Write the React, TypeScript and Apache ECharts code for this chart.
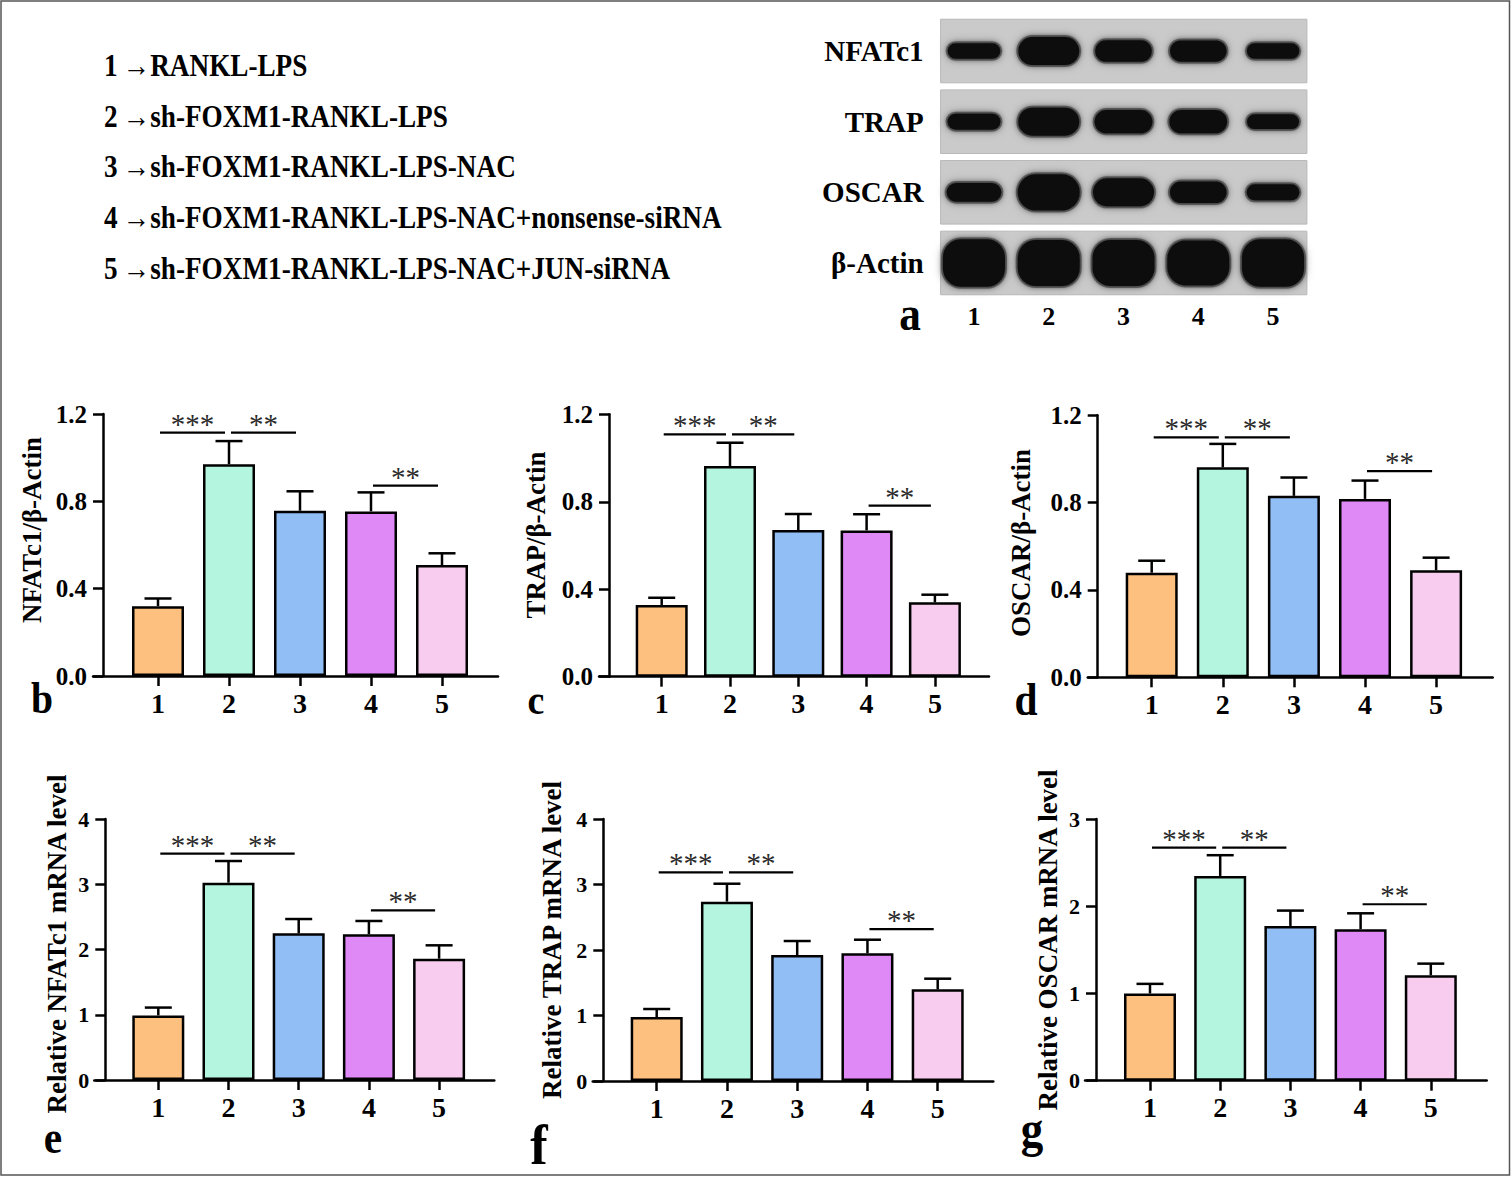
import React, { useEffect, useRef } from "react";
import * as echarts from "echarts";

const FONT = "'Liberation Serif', 'Times New Roman', serif";

// ---------- data ----------
const groups = ["1", "2", "3", "4", "5"];
const groupTreatments = [
  "RANKL-LPS",
  "sh-FOXM1-RANKL-LPS",
  "sh-FOXM1-RANKL-LPS-NAC",
  "sh-FOXM1-RANKL-LPS-NAC+nonsense-siRNA",
  "sh-FOXM1-RANKL-LPS-NAC+JUN-siRNA",
];
const barColors = ["#FDC07F", "#B4F5DF", "#92BEF6", "#DE89F6", "#F8CCEE"];

// protein level relative to β-Actin (mean, SEM)
const nfatc1Protein = [0.32, 0.97, 0.757, 0.754, 0.508];
const nfatc1ProteinSem = [0.035, 0.106, 0.089, 0.087, 0.054];
const trapProtein = [0.328, 0.963, 0.671, 0.669, 0.34];
const trapProteinSem = [0.033, 0.107, 0.073, 0.074, 0.035];
const oscarProtein = [0.479, 0.962, 0.831, 0.817, 0.49];
const oscarProteinSem = [0.055, 0.107, 0.084, 0.084, 0.058];

// relative mRNA level (mean, SEM)
const nfatc1Mrna = [0.99, 3.024, 2.248, 2.233, 1.859];
const nfatc1MrnaSem = [0.12, 0.332, 0.219, 0.204, 0.205];
const trapMrna = [0.977, 2.738, 1.924, 1.949, 1.399];
const trapMrnaSem = [0.122, 0.274, 0.213, 0.208, 0.163];
const oscarMrna = [1.0, 2.347, 1.774, 1.736, 1.209];
const oscarMrnaSem = [0.11, 0.238, 0.176, 0.183, 0.133];

// significance comparisons
const comparisons = [
  [1, 2],
  [2, 3],
  [4, 5],
];
const significance = ["***", "**", "**"];
const bracketLevelsB = [1.115, 1.115, 0.872];
const bracketLevelsC = [1.108, 1.108, 0.782];
const bracketLevelsD = [1.099, 1.099, 0.944];
const bracketLevelsE = [3.468, 3.468, 2.6];
const bracketLevelsF = [3.186, 3.186, 2.32];
const bracketLevelsG = [2.672, 2.672, 2.023];

// western blot (relative band signal per lane)
const blotTargets = ["NFATc1", "TRAP", "OSCAR", "β-Actin"];
const bandNFATc1 = [0.56, 1.0, 0.77, 0.76, 0.55];
const bandTRAP = [0.57, 1.0, 0.83, 0.83, 0.53];
const bandOSCAR = [0.67, 1.3, 1.0, 0.77, 0.57];
const bandActin = [1.7, 1.65, 1.65, 1.6, 1.7];

// ---------- layout ----------
const panels = [
  { letter: "b", title: "NFATc1/β-Actin", means: nfatc1Protein, sems: nfatc1ProteinSem, levels: bracketLevelsB,
    yMax: 1.2, yStep: 0.4, dec: 1, yFont: 25, axisStart: 93, yAxisX: 103, axisEnd: 498, c1: 158, step: 71,
    top: 414, y0: 676, titleX: 32, titleY: 530, letterX: 42, letterY: 698, letterSize: 44 },
  { letter: "c", title: "TRAP/β-Actin", means: trapProtein, sems: trapProteinSem, levels: bracketLevelsC,
    yMax: 1.2, yStep: 0.4, dec: 1, yFont: 25, axisStart: 599, yAxisX: 609, axisEnd: 989, c1: 661.7, step: 68.3,
    top: 414.3, y0: 676.7, titleX: 536, titleY: 535, letterX: 536, letterY: 700, letterSize: 42 },
  { letter: "d", title: "OSCAR/β-Actin", means: oscarProtein, sems: oscarProteinSem, levels: bracketLevelsD,
    yMax: 1.2, yStep: 0.4, dec: 1, yFont: 25, axisStart: 1087.7, yAxisX: 1097.7, axisEnd: 1492.7, c1: 1151.7, step: 71.1,
    top: 415.3, y0: 677.3, titleX: 1021, titleY: 543, letterX: 1026, letterY: 699, letterSize: 46 },
  { letter: "e", title: "Relative NFATc1 mRNA level", means: nfatc1Mrna, sems: nfatc1MrnaSem, levels: bracketLevelsE,
    yMax: 4, yStep: 1, dec: 0, yFont: 22, axisStart: 94.3, yAxisX: 105.3, axisEnd: 494.3, c1: 158.3, step: 70.2,
    top: 819, y0: 1080, titleX: 57, titleY: 944, letterX: 53, letterY: 1137, letterSize: 46 },
  { letter: "f", title: "Relative TRAP mRNA level", means: trapMrna, sems: trapMrnaSem, levels: bracketLevelsF,
    yMax: 4, yStep: 1, dec: 0, yFont: 22, axisStart: 592.7, yAxisX: 603.3, axisEnd: 993.3, c1: 656.7, step: 70.25,
    top: 819, y0: 1081, titleX: 552, titleY: 940, letterX: 539, letterY: 1145, letterSize: 58 },
  { letter: "g", title: "Relative OSCAR mRNA level", means: oscarMrna, sems: oscarMrnaSem, levels: bracketLevelsG,
    yMax: 3, yStep: 1, dec: 0, yFont: 22, axisStart: 1085, yAxisX: 1096, axisEnd: 1486.7, c1: 1150, step: 70.2,
    top: 819, y0: 1080.7, titleX: 1048, titleY: 940, letterX: 1032, letterY: 1129, letterSize: 50 },
];

const AXIS_W = 2.5;
const BLACK = "#000";

function buildOption() {
  const grid: any[] = [];
  const xAxis: any[] = [];
  const yAxis: any[] = [];
  const series: any[] = [];
  const graphic: any[] = [];

  // --- western blot grid (index 0) ---
  grid.push({ left: 936.6, top: 15.7, width: 373.8, height: 282.6 });
  xAxis.push({
    type: "category", gridIndex: 0, data: groups,
    axisLine: { show: false }, axisTick: { show: false }, splitLine: { show: false },
    axisLabel: { fontSize: 26, fontWeight: "bold", fontFamily: FONT, color: BLACK, margin: 5 },
  });
  yAxis.push({
    type: "category", gridIndex: 0, data: blotTargets, inverse: true,
    axisLine: { show: false }, axisTick: { show: false }, splitLine: { show: false },
    axisLabel: { fontSize: 29, fontWeight: "bold", fontFamily: FONT, color: BLACK, margin: 13 },
  });
  series.push({
    type: "custom", xAxisIndex: 0, yAxisIndex: 0, silent: true, z: 1,
    data: blotTargets.map((_, r) => [0, r]),
    encode: { x: 0, y: 1 },
    renderItem: (params: any, api: any) => {
      const cs = params.coordSys;
      const c = api.coord([0, api.value(1)]);
      const h = api.size([0, 1])[1] * 0.9;
      return {
        type: "rect",
        shape: { x: cs.x + 4, y: c[1] - h / 2, width: cs.width - 7.5, height: h },
        style: { fill: "#CACACA", stroke: "#B8B8B8", lineWidth: 1 },
      };
    },
  });
  const bands = [bandNFATc1, bandTRAP, bandOSCAR, bandActin];
  const bandData: number[][] = [];
  bands.forEach((row, r) => row.forEach((t, l) => bandData.push([l, r, t])));
  series.push({
    type: "custom", xAxisIndex: 0, yAxisIndex: 0, silent: true, z: 2,
    data: bandData,
    encode: { x: 0, y: 1 },
    renderItem: (params: any, api: any) => {
      const c = api.coord([api.value(0), api.value(1)]);
      const t = api.value(2);
      const h = t * 28;
      const w = Math.min(62, 42 + 19 * t);
      return {
        type: "group",
        children: [
          {
            type: "rect",
            shape: { x: c[0] - w / 2 - 2, y: c[1] - h / 2 - 2, width: w + 4, height: h + 4, r: Math.min(h / 2 + 2, 20) },
            style: { fill: "rgba(40,40,40,0.45)", shadowBlur: 8, shadowColor: "rgba(0,0,0,0.6)" },
          },
          {
            type: "rect",
            shape: { x: c[0] - w / 2, y: c[1] - h / 2, width: w, height: h, r: Math.min(h / 2, 18) },
            style: { fill: "#0f0f0f", shadowBlur: 5, shadowColor: "rgba(0,0,0,0.8)" },
          },
        ],
      };
    },
  });

  // --- bar panels ---
  panels.forEach((p, k) => {
    const gi = k + 1;
    const xMin = 1 - (p.c1 - p.axisStart) / p.step;
    const xMax = 5 + (p.axisEnd - (p.c1 + 4 * p.step)) / p.step;
    const positions = groups.map((_, i) => i + 1);
    grid.push({ left: p.axisStart, top: p.top, width: p.axisEnd - p.axisStart, height: p.y0 - p.top });
    xAxis.push({
      type: "value", gridIndex: gi, min: xMin, max: xMax,
      axisLine: { show: true, onZero: false, lineStyle: { color: BLACK, width: AXIS_W } },
      axisTick: { show: true, customValues: positions, length: 10, lineStyle: { color: BLACK, width: AXIS_W } },
      axisLabel: {
        customValues: positions,
        formatter: (v: number) => groups[Math.round(v) - 1] ?? "",
        fontSize: 28, fontWeight: "bold", fontFamily: FONT, color: BLACK, margin: 13,
      },
      splitLine: { show: false },
    });
    yAxis.push({
      type: "value", gridIndex: gi, min: 0, max: p.yMax, interval: p.yStep,
      offset: -(p.yAxisX - p.axisStart),
      axisLine: { show: true, onZero: false, lineStyle: { color: BLACK, width: AXIS_W } },
      axisTick: { show: true, length: 10, lineStyle: { color: BLACK, width: AXIS_W } },
      axisLabel: {
        formatter: (v: number) => v.toFixed(p.dec),
        fontSize: p.yFont, fontWeight: "bold", fontFamily: FONT, color: BLACK, margin: 16,
      },
      splitLine: { show: false },
    });
    series.push({
      type: "bar", xAxisIndex: gi, yAxisIndex: gi, barWidth: 52, z: 2,
      data: p.means.map((m, i) => ({ value: [i + 1, m], itemStyle: { color: barColors[i] } })),
      itemStyle: { borderColor: BLACK, borderWidth: 2.5 },
    });
    series.push({
      type: "custom", xAxisIndex: gi, yAxisIndex: gi, silent: true, z: 3,
      data: p.means.map((m, i) => [i + 1, m, p.sems[i]]),
      encode: { x: 0, y: 1 },
      renderItem: (params: any, api: any) => {
        const x = api.value(0), m = api.value(1), e = api.value(2);
        const base = api.coord([x, m]);
        const top = api.coord([x, m + e]);
        const st = { stroke: BLACK, lineWidth: AXIS_W };
        return {
          type: "group",
          children: [
            { type: "line", shape: { x1: base[0], y1: base[1], x2: top[0], y2: top[1] }, style: st },
            { type: "line", shape: { x1: top[0] - 13.5, y1: top[1], x2: top[0] + 13.5, y2: top[1] }, style: st },
          ],
        };
      },
    });
    series.push({
      type: "custom", xAxisIndex: gi, yAxisIndex: gi, silent: true, z: 3,
      data: comparisons.map((c, i) => [c[0], p.levels[i], c[1], i]),
      encode: { x: 0, y: 1 },
      renderItem: (params: any, api: any) => {
        const a = api.coord([api.value(0), api.value(1)]);
        const b = api.coord([api.value(2), api.value(1)]);
        const label = significance[api.value(3)];
        return {
          type: "group",
          children: [
            { type: "line", shape: { x1: a[0] + 2, y1: a[1], x2: b[0] - 4, y2: b[1] }, style: { stroke: BLACK, lineWidth: 2.2 } },
            {
              type: "text", x: (a[0] + b[0]) / 2 - 1, y: a[1] - 9,
              style: {
                text: label, fontSize: 29, fontFamily: FONT, fill: "#2a2a2a",
                align: "center", verticalAlign: "middle", textAlign: "center", textVerticalAlign: "middle",
              },
            },
          ],
        };
      },
    });

    graphic.push({
      type: "text", x: p.titleX, y: p.titleY, rotation: Math.PI / 2,
      style: {
        text: p.title, fontSize: 27, fontWeight: "bold", fontFamily: FONT, fill: BLACK,
        align: "center", verticalAlign: "middle", textAlign: "center", textVerticalAlign: "middle",
      },
    });
    graphic.push({
      type: "text", x: p.letterX, y: p.letterY, scaleX: 0.9,
      style: {
        text: p.letter, fontSize: p.letterSize, fontWeight: "bold", fontFamily: FONT, fill: BLACK,
        align: "center", verticalAlign: "middle", textAlign: "center", textVerticalAlign: "middle",
      },
    });
  });

  // --- group legend text ---
  groups.forEach((g, i) => {
    graphic.push({
      type: "text", x: 104, y: 65 + i * 50.75, scaleX: 0.85,
      style: {
        text: `${g}\u2009\u2192${groupTreatments[i]}`, fontSize: 32, fontWeight: "bold", fontFamily: FONT, fill: BLACK,
        align: "left", verticalAlign: "middle", textAlign: "left", textVerticalAlign: "middle",
      },
    });
  });
  graphic.push({
    type: "text", x: 910, y: 314, scaleX: 0.9,
    style: {
      text: "a", fontSize: 48, fontWeight: "bold", fontFamily: FONT, fill: BLACK,
      align: "center", verticalAlign: "middle", textAlign: "center", textVerticalAlign: "middle",
    },
  });
  // figure frame
  graphic.push({
    type: "rect", silent: true, z: 0,
    shape: { x: 1, y: 1, width: 1508.5, height: 1174 },
    style: { fill: "none", stroke: "#555", lineWidth: 1.5 },
  });

  return {
    animation: false,
    backgroundColor: "#fff",
    textStyle: { fontFamily: FONT },
    grid, xAxis, yAxis, series, graphic,
  };
}

export default function App() {
  const ref = useRef<HTMLDivElement>(null);
  useEffect(() => {
    document.body.style.margin = "0";
    document.body.style.overflow = "hidden";
    if (!ref.current) return;
    const chart = echarts.init(ref.current, undefined, { renderer: "svg" });
    chart.setOption(buildOption() as any);
    return () => chart.dispose();
  }, []);
  return (
    <div
      ref={ref}
      style={{ position: "absolute", left: 0, top: 0, width: 1512, height: 1177, background: "#fff" }}
    />
  );
}
